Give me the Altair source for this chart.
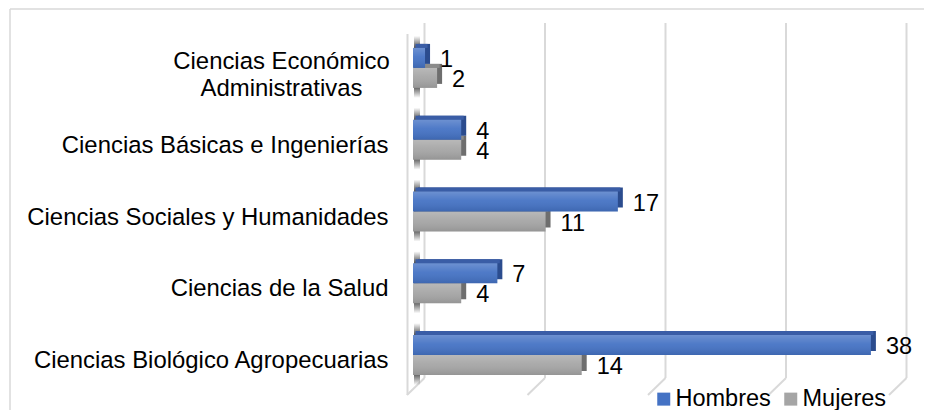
import altair as alt
import pandas as pd

# ---------------- data ----------------
categorias = [
    "Ciencias Económico Administrativas",
    "Ciencias Básicas e Ingenierías",
    "Ciencias Sociales y Humanidades",
    "Ciencias de la Salud",
    "Ciencias Biológico Agropecuarias",
]
hombres = [1, 4, 17, 7, 38]
mujeres = [2, 4, 11, 4, 14]
series = ["Hombres", "Mujeres"]
colores = ["#4472C4", "#A5A5A5"]
grid_vals = [0, 10, 20, 30, 40]
etiqueta_partida = ["Ciencias Económico", "Administrativas"]

rows = []
for c, h, m in zip(categorias, hombres, mujeres):
    rows.append({"cat": c, "serie": "Hombres", "valor": h})
    rows.append({"cat": c, "serie": "Mujeres", "valor": m})
df = pd.DataFrame(rows)
grid_df = pd.DataFrame({"v": grid_vals})
cat_df = pd.DataFrame({"cat": categorias})
one_df = pd.DataFrame({"k": [0]})

FONT = "Liberation Sans, Arial, Helvetica, sans-serif"
GRID = "#d9d9d9"
BH = 20  # bar face height (px)

xscale = alt.Scale(domain=[0, 40], nice=False, zero=True)
X = alt.X("valor:Q", scale=xscale, axis=None)

multi = categorias[0]
test_multi = f"datum.value == '{multi}'"
yaxis = alt.Axis(
    title=None, ticks=False, domain=False, grid=False,
    labelFont=FONT, labelFontSize=23.9, labelColor="#000000",
    labelLimit=600, labelLineHeight=27, labelBaseline="middle",
    labelOffset={"condition": {"test": test_multi, "value": -6}, "value": 6},
    labelExpr=f"datum.label == '{multi}' ? ['{etiqueta_partida[0]}', '{etiqueta_partida[1]}'] : datum.label",
    labelAlign={"condition": {"test": test_multi, "value": "center"}, "value": "right"},
    labelPadding={"condition": {"test": test_multi, "value": 132}, "value": 25},
)
Y = alt.Y("cat:N", sort=categorias,
          scale=alt.Scale(domain=categorias, paddingInner=0, paddingOuter=0),
          axis=yaxis)

legend = alt.Legend(
    title=None, orient="none", legendX=239, legendY=355, direction="horizontal",
    labelFont=FONT, labelFontSize=23.5, labelColor="#000000",
    symbolType="square", symbolSize=169, symbolStrokeWidth=0,
    columnPadding=8, labelOffset=0, padding=0,
)
COLOR = alt.Color("serie:N", scale=alt.Scale(domain=series, range=colores), legend=legend)

# ---------------- decorations (chart frame, 3D walls, grid) ----------------
frame_left = alt.Chart(one_df).mark_rule(color=GRID, strokeWidth=1.5).encode(
    x=alt.value(-403), y=alt.value(-23), y2=alt.value(380))
frame_top = alt.Chart(one_df).mark_rule(color=GRID, strokeWidth=1.5).encode(
    x=alt.value(-403), x2=alt.value(530), y=alt.value(-23))

grid_back = alt.Chart(grid_df).mark_rule(color=GRID, strokeWidth=2, xOffset=11.5).encode(
    x=alt.X("v:Q", scale=xscale, axis=None), y=alt.value(-9), y2=alt.value(346))
grid_floor = alt.Chart(grid_df).mark_rule(color=GRID, strokeWidth=2, xOffset=11.5, x2Offset=-6).encode(
    x=alt.X("v:Q", scale=xscale, axis=None), x2="v:Q", y=alt.value(346), y2=alt.value(363))
front_wall = alt.Chart(grid_df).transform_filter(alt.datum.v == 0).mark_rule(
    color=GRID, strokeWidth=2, xOffset=-5.5).encode(
    x=alt.X("v:Q", scale=xscale, axis=None), y=alt.value(2), y2=alt.value(363))

shadow_grad = alt.Gradient(
    gradient="linear", x1=0, y1=0, x2=0, y2=1,
    stops=[alt.GradientStop(offset=0, color="rgba(70,70,70,0)"),
           alt.GradientStop(offset=0.18, color="rgba(70,70,70,0.9)"),
           alt.GradientStop(offset=0.82, color="rgba(70,70,70,0.9)"),
           alt.GradientStop(offset=1, color="rgba(70,70,70,0)")])
wall_shadow = alt.Chart(cat_df).mark_bar(
    height=62, yOffset=-1, xOffset=1, x2Offset=7, fill=shadow_grad).encode(
    y=Y, x=alt.X(datum=0, scale=xscale, axis=None), x2=alt.datum(0))

sheen = alt.Gradient(
    gradient="linear", x1=0, y1=0, x2=0, y2=1,
    stops=[alt.GradientStop(offset=0, color="rgba(255,255,255,0.22)"),
           alt.GradientStop(offset=0.45, color="rgba(255,255,255,0.06)"),
           alt.GradientStop(offset=1, color="rgba(0,0,0,0.10)")])

estilos = {
    "Hombres": {"yoff": -10, "side": "#2B4C8E", "top": "#3A5DA6"},
    "Mujeres": {"yoff": 10, "side": "#6E6E6E", "top": "#8A8A8A"},
}


def serie_layers(s):
    st = estilos[s]
    base = alt.Chart(df).transform_filter(alt.datum.serie == s)
    side = base.mark_bar(height=BH, yOffset=st["yoff"] - 4, xOffset=5, x2Offset=5,
                         color=st["side"]).encode(y=Y, x=X)
    top = base.mark_bar(height=4, yOffset=st["yoff"] - BH / 2 - 2, xOffset=2.5, x2Offset=2.5,
                        color=st["top"]).encode(y=Y, x=X)
    face = base.mark_bar(height=BH, yOffset=st["yoff"]).encode(y=Y, x=X, color=COLOR)
    gloss = base.mark_bar(height=BH, yOffset=st["yoff"], fill=sheen).encode(y=Y, x=X)
    return [side, top, face, gloss]


def label_layer(s):
    st = estilos[s]
    return alt.Chart(df).transform_filter(alt.datum.serie == s).mark_text(
        align="left", baseline="middle", dx=15, dy=st["yoff"] + 2,
        font=FONT, fontSize=23.5, color="#000000").encode(y=Y, x=X, text="valor:Q")


layers = [frame_left, frame_top, grid_back, grid_floor, front_wall, wall_shadow]
layers += serie_layers("Mujeres")
layers += serie_layers("Hombres")
layers += [label_layer("Hombres"), label_layer("Mujeres")]

chart = alt.layer(*layers).properties(
    width=482, height=359,
    padding={"left": 405, "top": 24, "right": 29, "bottom": 19},
    autosize=alt.AutoSizeParams(type="none"),
    background="#ffffff",
).configure_view(stroke=None)

chart.save("out.html", embed_options={"renderer": "svg", "actions": False})
